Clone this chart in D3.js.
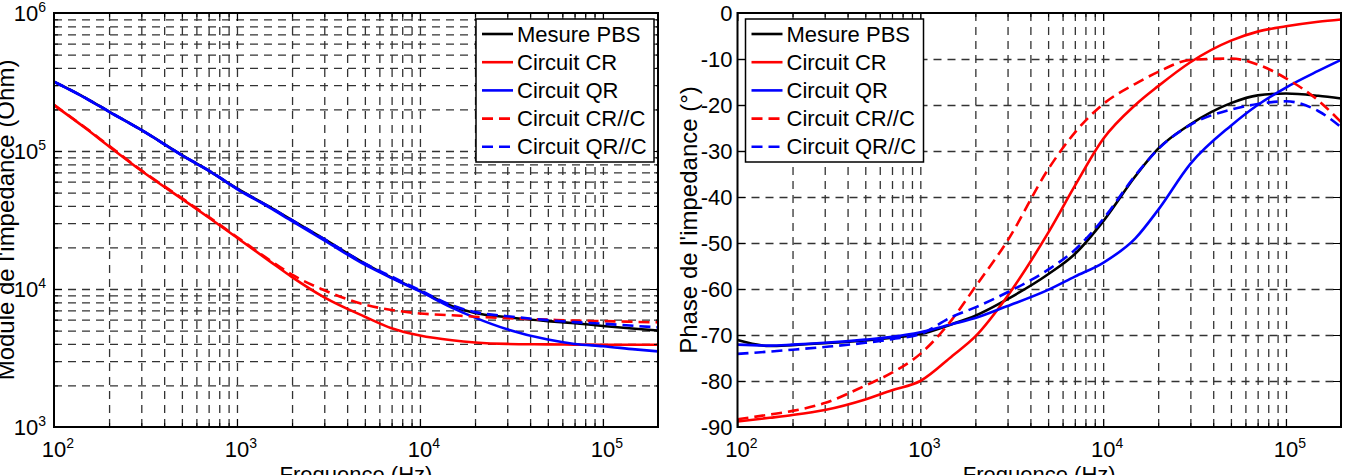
<!DOCTYPE html>
<html>
<head>
<meta charset="utf-8">
<script src="https://cdn.jsdelivr.net/npm/d3@7"></script>
<style>
    body { margin: 0; background: #fff; }
    svg text { font-family: "Liberation Sans", Arial, sans-serif; fill: #000; }
</style>
</head>
<body>
<svg id="chart" width="1347" height="475"></svg>
<script>
// frequencies (Hz)
const freqs = [100, 150, 200, 300, 500, 700, 1000, 1500, 2000, 3000, 5000, 7000,
    10000, 15000, 20000, 30000, 50000, 70000, 100000, 150000, 200000];

// module de l'impedance (Ohm)
const moduleMesure = [318000, 241000, 193000, 142000, 93500, 72000, 53500, 39500, 31500, 23000, 15300, 12100,
    9700, 7500, 6700, 6250, 5850, 5650, 5400, 5150, 5000];
const moduleCR = [215000, 145000, 108000, 72000, 45000, 33000, 23500, 16000, 12200, 8700, 6300, 5200,
    4600, 4250, 4100, 4000, 3970, 3950, 3940, 3940, 3940];
const moduleQR = [317000, 240000, 192000, 142000, 93000, 72000, 53000, 39000, 31000, 22500, 15000, 12000,
    9600, 7300, 6200, 5100, 4300, 4000, 3850, 3650, 3530];
const moduleCRC = [216000, 146000, 109000, 72500, 45500, 33300, 23800, 16300, 12700, 9800, 7700, 7050,
    6650, 6450, 6300, 6150, 6000, 5900, 5850, 5780, 5730];
const moduleQRC = [318000, 241000, 193000, 142000, 93500, 72500, 53500, 39500, 31500, 23000, 15300, 12300,
    9800, 7600, 6800, 6350, 5950, 5750, 5600, 5400, 5270];

// phase de l'impedance (deg)
const phaseMesure = [-71.1, -72.4, -72.2, -71.8, -71.2, -70.6, -69.8, -67.6, -65.8, -62.2, -56.8, -52.4,
    -45.3, -35.5, -29.5, -24.2, -19.6, -17.9, -17.5, -18.0, -18.6];
const phaseCR = [-88.8, -88.0, -87.4, -86.3, -84.0, -82.0, -80.0, -74.5, -70.3, -61.5, -47.8, -37.6,
    -27.4, -20.0, -15.9, -10.7, -6.0, -4.05, -2.9, -1.9, -1.4];
const phaseQR = [-72.1, -72.3, -72.1, -71.7, -71.0, -70.4, -69.4, -67.6, -66.3, -63.7, -60.2, -57.3,
    -54.3, -49.0, -42.8, -32.8, -24.5, -20.0, -16.2, -12.6, -10.2];
const phaseCRC = [-88.3, -87.3, -86.5, -84.8, -81.0, -78.2, -74.1, -66.5, -59.5, -49.5, -34.0, -26.0,
    -19.8, -15.4, -12.8, -10.2, -9.9, -11.2, -14.2, -19.0, -23.7];
const phaseQRC = [-74.1, -73.6, -73.2, -72.6, -71.7, -70.9, -69.8, -66.0, -64.0, -60.7, -55.8, -51.5,
    -44.8, -35.3, -29.6, -24.3, -21.0, -19.8, -19.2, -21.3, -24.8];

const seriesNames = ['Mesure PBS', 'Circuit CR', 'Circuit QR', 'Circuit CR//C', 'Circuit QR//C'];
const seriesColors = ['#000000', '#ff0000', '#0000ff', '#ff0000', '#0000ff'];
const seriesDashed = [false, false, false, true, true];

const freqMajor = [1e2, 1e3, 1e4, 1e5];
const moduleMajor = [1e3, 1e4, 1e5, 1e6];
const phaseMajor = [-90, -80, -70, -60, -50, -40, -30, -20, -10, 0];

const svg = d3.select('#chart');
const font = 22;

function drawPanel(opt) {
    const {box, y, yMajor, yMinor, yLog, series, yLabel, legendX} = opt;
    const w = box.x1 - box.x0, h = box.y1 - box.y0;
    const x = d3.scaleLog().domain([100, 200000]).range([0, w]);
    const g = svg.append('g').attr('transform', `translate(${box.x0},${box.y0})`);

    // grid
    const gridStyle = sel => {
        sel.select('.domain').remove();
        sel.selectAll('.tick line')
            .attr('stroke', '#333')
            .attr('stroke-width', 1.3)
            .attr('stroke-dasharray', '8,6');
        sel.selectAll('.tick text').remove();
    };
    const xGridVals = x.ticks().filter(v => v > 100 && v < 200000);
    g.append('g')
        .attr('transform', `translate(0,${h})`)
        .call(d3.axisBottom(x).tickValues(xGridVals).tickSize(-h).tickFormat(''))
        .call(gridStyle);
    const yGridVals = yMinor.filter(v => v > y.domain()[0] && v < y.domain()[1]);
    g.append('g')
        .call(d3.axisLeft(y).tickValues(yGridVals).tickSize(-w).tickFormat(''))
        .call(gridStyle);

    // curves
    const line = vals => d3.line()
        .x((d, i) => x(freqs[i]))
        .y(d => y(d))
        .curve(d3.curveMonotoneX)(vals);
    series.forEach((vals, i) => {
        g.append('path')
            .attr('d', line(vals))
            .attr('fill', 'none')
            .attr('stroke', seriesColors[i])
            .attr('stroke-width', 2.6)
            .attr('stroke-dasharray', seriesDashed[i] ? '11,6' : null);
    });

    // inner ticks on all four sides
    const tickStyle = sel => {
        sel.select('.domain').remove();
        sel.selectAll('.tick line').attr('stroke', '#000').attr('stroke-width', 1);
        sel.selectAll('.tick text').remove();
    };
    const minorX = x.ticks().filter(v => !freqMajor.includes(v));
    [[d3.axisBottom, h], [d3.axisTop, 0]].forEach(([ax, ty]) => {
        g.append('g').attr('transform', `translate(0,${ty})`)
            .call(ax(x).tickValues(freqMajor).tickSize(-8).tickFormat('')).call(tickStyle);
        g.append('g').attr('transform', `translate(0,${ty})`)
            .call(ax(x).tickValues(minorX).tickSize(-4).tickFormat('')).call(tickStyle);
    });
    [[d3.axisLeft, 0], [d3.axisRight, w]].forEach(([ax, tx]) => {
        g.append('g').attr('transform', `translate(${tx},0)`)
            .call(ax(y).tickValues(yMajor).tickSize(-8).tickFormat('')).call(tickStyle);
        if (yLog) {
            const minorY = yMinor.filter(v => !yMajor.includes(v));
            g.append('g').attr('transform', `translate(${tx},0)`)
                .call(ax(y).tickValues(minorY).tickSize(-4).tickFormat('')).call(tickStyle);
        }
    });

    // frame
    g.append('rect')
        .attr('width', w).attr('height', h)
        .attr('fill', 'none').attr('stroke', '#000').attr('stroke-width', 2);

    // x tick labels 10^n
    freqMajor.forEach(v => {
        const t = g.append('text')
            .attr('x', x(v) + 4).attr('y', h + 30)
            .attr('text-anchor', 'middle')
            .style('font-size', font + 'px');
        t.append('tspan').text('10');
        t.append('tspan').attr('dy', -9).style('font-size', '14px').text(Math.log10(v));
    });

    // y tick labels
    yMajor.forEach(v => {
        const t = g.append('text')
            .attr('x', yLog ? -8 : -5).attr('y', y(v) + 8)
            .attr('text-anchor', 'end')
            .style('font-size', font + 'px');
        if (yLog) {
            t.append('tspan').text('10');
            t.append('tspan').attr('dy', -9).style('font-size', '14px').text(Math.log10(v));
        } else {
            t.text(v);
        }
    });

    // axis titles
    g.append('text')
        .attr('x', w / 2).attr('y', h + 55)
        .attr('text-anchor', 'middle')
        .style('font-size', font + 'px')
        .text('Frequence (Hz)');
    g.append('text')
        .attr('transform', `translate(${opt.yLabelX},${h / 2}) rotate(-90)`)
        .attr('text-anchor', 'middle')
        .style('font-size', '24px')
        .text(yLabel);

    // legend
    const lg = g.append('g').attr('transform', `translate(${legendX},6)`);
    lg.append('rect')
        .attr('width', 178).attr('height', 143)
        .attr('fill', '#fff').attr('stroke', '#000').attr('stroke-width', 1.5);
    seriesNames.forEach((name, i) => {
        const yy = 15 + i * 28.2;
        lg.append('line')
            .attr('x1', 6).attr('x2', 37).attr('y1', yy).attr('y2', yy)
            .attr('stroke', seriesColors[i]).attr('stroke-width', 2.6)
            .attr('stroke-dasharray', seriesDashed[i] ? '11,6' : null);
        lg.append('text')
            .attr('x', 41).attr('y', yy + 7.5)
            .style('font-size', font + 'px')
            .text(name);
    });
}

const boxL = {x0: 54, x1: 658, y0: 13, y1: 427};
const boxR = {x0: 737.5, x1: 1341, y0: 13, y1: 427};

drawPanel({
    box: boxL,
    y: d3.scaleLog().domain([1e3, 1e6]).range([boxL.y1 - boxL.y0, 0]),
    yMajor: moduleMajor,
    yMinor: d3.scaleLog().domain([1e3, 1e6]).ticks(),
    yLog: true,
    series: [moduleMesure, moduleCR, moduleQR, moduleCRC, moduleQRC],
    yLabel: "Module de l'impedance (Ohm)",
    yLabelX: -40,
    legendX: 422
});

drawPanel({
    box: boxR,
    y: d3.scaleLinear().domain([-90, 0]).range([boxR.y1 - boxR.y0, 0]),
    yMajor: phaseMajor,
    yMinor: phaseMajor,
    yLog: false,
    series: [phaseMesure, phaseCR, phaseQR, phaseCRC, phaseQRC],
    yLabel: "Phase de l'impedance (°)",
    yLabelX: -41,
    legendX: 8
});
</script>
</body>
</html>
